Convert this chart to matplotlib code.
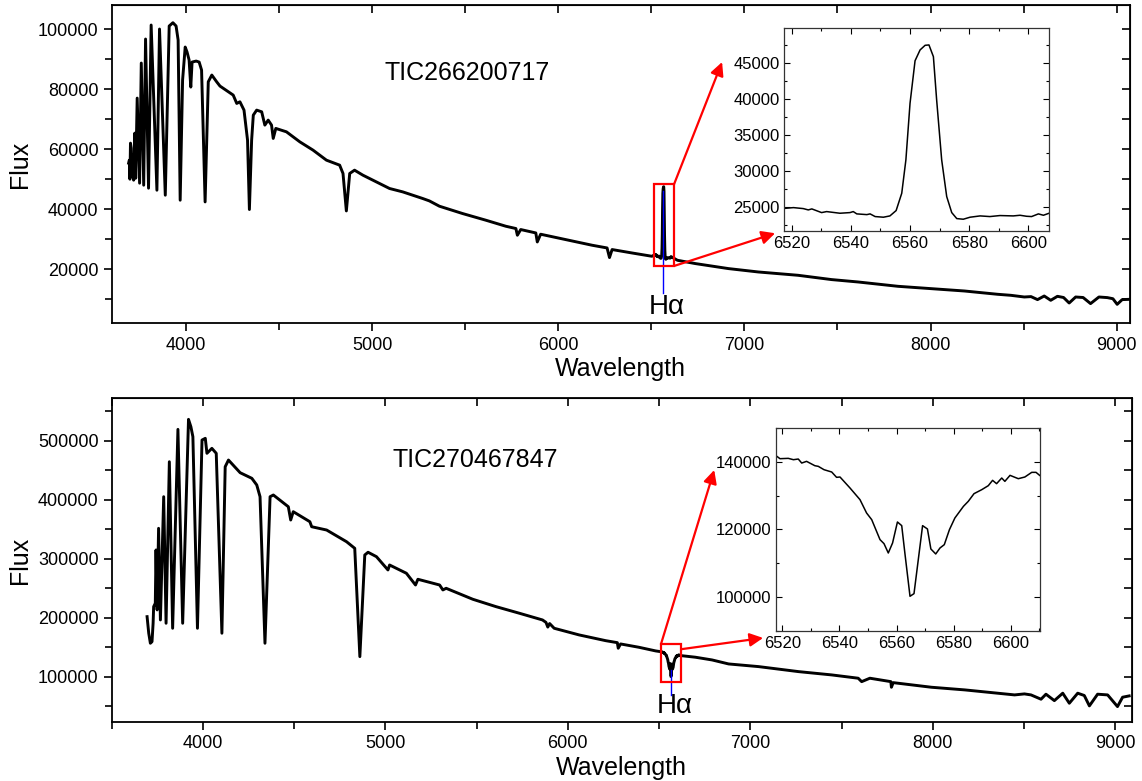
import numpy as np
import matplotlib
matplotlib.use('Agg')
import matplotlib.pyplot as plt
from matplotlib.ticker import MultipleLocator
from matplotlib.patches import Rectangle

plt.rcParams['font.family'] = ['Liberation Sans', 'DejaVu Sans']

# ---- TIC266200717 (Ha in emission) ----
top_wave = [3691, 3695, 3698, 3701, 3705, 3708, 3711, 3714, 3718, 3724, 3729, 3737, 3750,
            3759, 3772, 3782, 3798, 3812, 3843, 3857, 3888, 3909, 3929, 3946, 3957, 3968,
            3981, 3995, 4005, 4016, 4025, 4032, 4054, 4070, 4083, 4102, 4119, 4138, 4164,
            4182, 4227, 4253, 4272, 4289, 4311, 4330, 4340, 4352, 4361, 4379, 4406, 4423,
            4441, 4459, 4468, 4482, 4539, 4611, 4682, 4754, 4825, 4843, 4861, 4879, 4905,
            4950, 5022, 5057, 5093, 5164, 5271, 5307, 5361, 5485, 5611, 5718, 5772, 5780,
            5798, 5879, 5887, 5905, 6039, 6182, 6262, 6275, 6289, 6396, 6503]
top_flux = [55330, 56330, 50000, 62000, 60330, 51000, 53000, 58000, 49670, 65330, 50330,
            77000, 48670, 88670, 48000, 96670, 47000, 101330, 46330, 100000, 44670, 101000,
            102100, 101000, 96330, 43000, 83000, 94000, 92330, 89670, 80670, 89000, 89330,
            89000, 86330, 42430, 82430, 84670, 82430, 81000, 79100, 78000, 75230, 75770,
            73000, 63000, 39900, 63000, 71330, 73000, 72430, 68000, 69670, 68000, 63570,
            66900, 65770, 62430, 59670, 56330, 54670, 51900, 39430, 51900, 53000, 51330,
            49100, 48000, 46900, 45770, 43570, 42770, 41000, 38570, 36330, 34330, 33570,
            31330, 33230, 32100, 29100, 31670, 29900, 28000, 27100, 23900, 26570, 25430,
            24330]
top_ha_wave = [6517.7, 6520.6, 6523.9, 6525.6, 6526.8, 6530.1, 6531.8, 6536.3, 6539.7,
               6540.8, 6542.0, 6545.4, 6546.5, 6548.2, 6551.0, 6553.2, 6555.3, 6557.2,
               6558.6, 6560.0, 6561.7, 6563.4, 6565.1, 6566.4, 6567.9, 6569.0, 6570.7,
               6572.4, 6574.1, 6575.8, 6578.0, 6580.3, 6583.7, 6587.0, 6590.4, 6594.9,
               6597.2, 6599.4, 6601.1, 6603.4, 6605.1, 6607.0]
top_ha_flux = [24860, 24950, 24815, 24630, 24770, 24260, 24400, 24170, 24260, 24400, 24080,
               23980, 24080, 23710, 23620, 23800, 24540, 26940, 31560, 39400, 45300, 46800,
               47440, 47490, 45870, 39870, 31560, 26480, 24260, 23430, 23340, 23620, 23800,
               23710, 23850, 23800, 23890, 23750, 23710, 24080, 23890, 24170]
top_red_wave = [6640, 6736, 6914, 7075, 7288, 7468, 7611, 7825, 8003, 8182, 8361, 8432,
                8504, 8540, 8575, 8611, 8646, 8682, 8715, 8745, 8780, 8820, 8860, 8905,
                8950, 8980, 9003, 9030, 9072]
top_red_flux = [23000, 21900, 20230, 19100, 18000, 16570, 15770, 14330, 13570, 12770, 11670,
                11330, 10770, 10900, 9900, 11100, 9670, 11000, 10600, 8770, 10770, 10600,
                8570, 10770, 10570, 10200, 8330, 9900, 10000]

# ---- TIC270467847 (Ha in absorption) ----
bot_wave = [3694, 3703, 3712, 3721, 3727, 3730, 3739, 3743, 3749, 3757, 3767, 3785, 3798,
            3816, 3834, 3863, 3889, 3921, 3934, 3945, 3970, 3995, 4013, 4022, 4049, 4073,
            4104, 4122, 4140, 4204, 4268, 4295, 4313, 4340, 4368, 4386, 4468, 4481, 4495,
            4586, 4596, 4678, 4787, 4832, 4860, 4887, 4905, 4951, 5014, 5023, 5115, 5165,
            5178, 5297, 5315, 5333, 5479, 5606, 5734, 5861, 5880, 5890, 5900, 5925, 6062,
            6207, 6271, 6276, 6289, 6389, 6481, 6508]
bot_flux = [201700, 173600, 156600, 159300, 190500, 218700, 224400, 314800, 213100, 351500,
            196100, 405100, 190500, 464400, 182000, 519300, 190500, 536300, 523800, 506800,
            182000, 501200, 504100, 478700, 487100, 478700, 173600, 455900, 467300, 445800,
            436300, 425000, 405100, 156600, 405100, 408000, 388100, 365600, 379700, 362700,
            354200, 348600, 328800, 317600, 133900, 306300, 310900, 303400, 280900, 289300,
            275300, 255400, 265100, 255400, 247000, 249800, 231200, 218700, 207500, 196100,
            192000, 184000, 190000, 182000, 170700, 161000, 157600, 148200, 155400, 149800,
            143600, 142400]
bot_ha_wave = [6517.8, 6519.2, 6522.1, 6523.9, 6525.6, 6526.8, 6528.5, 6531.4, 6532.6,
               6534.6, 6537.3, 6539.0, 6540.2, 6543.7, 6547.2, 6549.5, 6551.3, 6554.2,
               6555.6, 6557.1, 6558.6, 6560.3, 6561.8, 6562.9, 6564.7, 6566.1, 6567.6,
               6569.1, 6570.8, 6572.0, 6573.7, 6575.2, 6576.7, 6578.5, 6580.4, 6583.4,
               6585.1, 6587.1, 6589.8, 6592.1, 6593.6, 6595.0, 6596.8, 6597.9, 6599.7,
               6602.6, 6604.9, 6607.3, 6608.8, 6610.2]
bot_ha_flux = [141880, 140990, 141090, 140690, 140890, 139700, 140200, 138910, 138720,
               137730, 137040, 135460, 135560, 132300, 128840, 124890, 122910, 116990,
               115800, 113030, 116000, 122220, 121140, 113030, 100190, 100980, 111060,
               121140, 120150, 114220, 112740, 114520, 115500, 119950, 123400, 126860,
               128350, 130620, 131800, 132990, 134570, 133580, 135260, 134270, 136050,
               135060, 135560, 136940, 136940, 135950]
bot_red_wave = [6699, 6790, 6881, 7045, 7264, 7446, 7591, 7610, 7655, 7770, 7773, 7783,
                7992, 8175, 8356, 8448, 8502, 8538, 8593, 8620, 8666, 8712, 8748, 8794,
                8830, 8858, 8903, 8958, 9012, 9040, 9076]
bot_red_flux = [132900, 128300, 121500, 117000, 108500, 102900, 97300, 91500, 97300, 91500,
                82000, 89800, 82000, 77500, 71900, 69000, 70700, 69000, 61700, 70200, 59300,
                71900, 54900, 71900, 68000, 50400, 70200, 69000, 49200, 65100, 67300]

top_wl = np.concatenate([top_wave, top_ha_wave, top_red_wave])
top_fl = np.concatenate([top_flux, top_ha_flux, top_red_flux])
bot_wl = np.concatenate([bot_wave, bot_ha_wave, bot_red_wave])
bot_fl = np.concatenate([bot_flux, bot_ha_flux, bot_red_flux])


def style_main(ax, ymaj, ymin):
    ax.xaxis.set_major_locator(MultipleLocator(1000))
    ax.xaxis.set_minor_locator(MultipleLocator(500))
    ax.yaxis.set_major_locator(MultipleLocator(ymaj))
    ax.yaxis.set_minor_locator(MultipleLocator(ymin))
    ax.ticklabel_format(useOffset=False, style='plain')
    ax.tick_params(which='both', direction='out', labelsize=13, width=1.2)
    ax.tick_params(which='major', length=6)
    ax.tick_params(which='minor', length=5)
    for s in ax.spines.values():
        s.set_linewidth(1.3)
    # mirrored ticks pointing inward on top and right
    top = ax.secondary_xaxis('top')
    top.xaxis.set_major_locator(MultipleLocator(1000))
    top.xaxis.set_minor_locator(MultipleLocator(500))
    top.tick_params(which='both', direction='in', labeltop=False, length=6, width=1.2)
    right = ax.secondary_yaxis('right')
    right.yaxis.set_major_locator(MultipleLocator(ymaj))
    right.yaxis.set_minor_locator(MultipleLocator(ymin))
    right.tick_params(which='both', direction='in', labelright=False, length=6, width=1.2)
    ax.set_xlabel('Wavelength', fontsize=18)
    ax.set_ylabel('Flux', fontsize=18)
    ax.xaxis.set_label_coords(0.5, -0.105)
    ax.yaxis.set_label_coords(-0.078, 0.5)


def style_inset(ax, ymaj, ymin):
    ax.xaxis.set_major_locator(MultipleLocator(20))
    ax.xaxis.set_minor_locator(MultipleLocator(10))
    ax.yaxis.set_major_locator(MultipleLocator(ymaj))
    ax.yaxis.set_minor_locator(MultipleLocator(ymin))
    ax.ticklabel_format(useOffset=False, style='plain')
    ax.tick_params(which='both', direction='in', top=True, right=True, labelsize=12, width=0.8)
    ax.tick_params(which='major', length=4)
    ax.tick_params(which='minor', length=2.5)
    for s in ax.spines.values():
        s.set_linewidth(0.9)
        s.set_color('#333333')


fig = plt.figure(figsize=(11.42, 7.81), dpi=100)
arrow = dict(arrowstyle='-|>', color='red', lw=1.6, mutation_scale=20, shrinkA=0, shrinkB=0)

# top panel
ax1 = fig.add_axes([0.0978, 0.586, 0.8917, 0.4076])
ax1.plot(top_wl, top_fl, color='black', lw=2.1, zorder=2)
ax1.set_xlim(3600, 9072)
ax1.set_ylim(2000, 108000)
style_main(ax1, 20000, 10000)
ax1.text(0.349, 0.786, 'TIC266200717', transform=ax1.transAxes, fontsize=18,
         ha='center', va='center')
ax1.add_patch(Rectangle((6516, 21100), 106, 27230, fill=False, ec='red', lw=1.6, zorder=4))
ax1.plot([6563, 6563], [46000, 12000], color='blue', lw=1.0, zorder=3)
ax1.text(6584, 7330, 'H\u03b1', fontsize=20, ha='center', va='center')
ax1.annotate('', xy=(6880, 89000), xytext=(6622, 48330), arrowprops=arrow, annotation_clip=False)
ax1.annotate('', xy=(7165, 32000), xytext=(6622, 21100), arrowprops=arrow, annotation_clip=False)

ins1 = fig.add_axes([0.6868, 0.7046, 0.2318, 0.2592])
ins1.plot(top_wl, top_fl, color='black', lw=1.1)
ins1.set_xlim(6517.5, 6607)
ins1.set_ylim(21750, 49800)
style_inset(ins1, 5000, 2500)

# bottom panel
ax2 = fig.add_axes([0.0978, 0.0755, 0.8932, 0.4149])
ax2.plot(bot_wl, bot_fl, color='black', lw=2.1, zorder=2)
ax2.set_xlim(3500, 9090)
ax2.set_ylim(23000, 572500)
style_main(ax2, 100000, 50000)
ax2.text(0.356, 0.809, 'TIC270467847', transform=ax2.transAxes, fontsize=18,
         ha='center', va='center')
ax2.add_patch(Rectangle((6510, 90500), 111, 64400, fill=False, ec='red', lw=1.6, zorder=4))
ax2.plot([6565, 6565], [111400, 69000], color='blue', lw=1.0, zorder=3)
ax2.text(6588, 50300, 'H\u03b1', fontsize=20, ha='center', va='center')
ax2.annotate('', xy=(6802, 450400), xytext=(6510, 154900), arrowprops=arrow, annotation_clip=False)
ax2.annotate('', xy=(7070, 165600), xytext=(6621, 146500), arrowprops=arrow, annotation_clip=False)

ins2 = fig.add_axes([0.6795, 0.1925, 0.2312, 0.2591])
ins2.plot(bot_wl, bot_fl, color='black', lw=1.1)
ins2.set_xlim(6517.8, 6610.2)
ins2.set_ylim(90000, 150000)
style_inset(ins2, 20000, 10000)

fig.savefig('out.png', dpi=100)
